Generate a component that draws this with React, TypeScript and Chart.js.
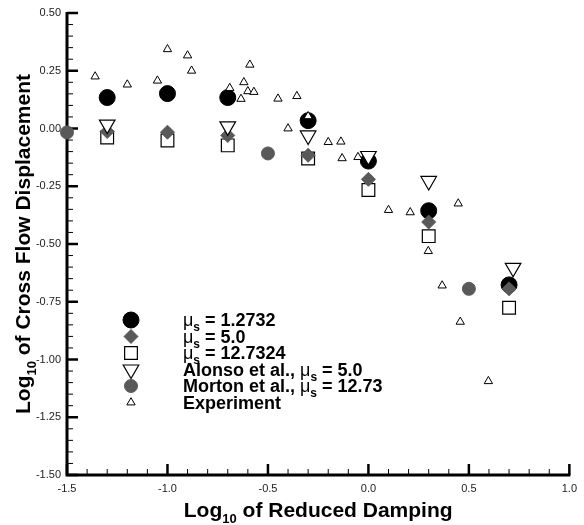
import React, { useEffect, useRef } from 'react';
import { Chart, registerables } from 'chart.js';

Chart.register(...registerables);

// ---------- data ----------
const X_SIM = [-1.3, -1.0, -0.7, -0.3, 0.0, 0.3, 0.7];
const Y_MU_1_2732 = [0.134, 0.151, 0.134, 0.034, -0.141, -0.356, -0.677];
const Y_MU_5_0 = [-0.013, -0.016, -0.03, -0.116, -0.22, -0.405, -0.694];
const Y_MU_12_7324 = [-0.039, -0.052, -0.073, -0.13, -0.266, -0.466, -0.776];

const X_ALONSO = [-1.3, -0.7, -0.3, 0.0, 0.3, 0.72];
const Y_ALONSO = [0.017, 0.009, -0.03, -0.119, -0.227, -0.603];

const X_MORTON = [-1.5, -0.5, 0.5];
const Y_MORTON = [-0.017, -0.108, -0.694];

const X_EXP = [-1.36, -1.2, -1.05, -1.0, -0.9, -0.88, -0.69, -0.634, -0.62, -0.6, -0.59, -0.57, -0.45, -0.4, -0.356, -0.3, -0.2, -0.137, -0.131, -0.052, 0.1, 0.208, 0.447, 0.298, 0.367, 0.457, 0.597];
const Y_EXP = [0.225, 0.19, 0.207, 0.343, 0.316, 0.25, 0.175, 0.128, 0.2, 0.161, 0.276, 0.158, 0.129, 0.0, 0.14, 0.053, -0.059, -0.057, -0.129, -0.124, -0.353, -0.363, -0.325, -0.531, -0.68, -0.837, -1.094];

const X_MIN = -1.5, X_MAX = 1.0, X_STEP = 0.5, X_MINOR = 0.1;
const Y_MIN = -1.5, Y_MAX = 0.5, Y_STEP = 0.25, Y_MINOR = 0.05;

const X_TITLE = [{ t: 'Log' }, { t: '10', sub: true }, { t: ' of Reduced Damping' }];
const Y_TITLE = [{ t: 'Log' }, { t: '10', sub: true }, { t: ' of Cross Flow Displacement' }];

const LEGEND_LABELS = [
  [{ t: 'μ', thin: true }, { t: 's', sub: true }, { t: ' = 1.2732' }],
  [{ t: 'μ', thin: true }, { t: 's', sub: true }, { t: ' = 5.0' }],
  [{ t: 'μ', thin: true }, { t: 's', sub: true }, { t: ' = 12.7324' }],
  [{ t: 'Alonso et al., ' }, { t: 'μ', thin: true }, { t: 's', sub: true }, { t: ' = 5.0' }],
  [{ t: 'Morton et al., ' }, { t: 'μ', thin: true }, { t: 's', sub: true }, { t: ' = 12.73' }],
  [{ t: 'Experiment' }],
];

const GRAY = '#595959';
const FAMILY = "'Liberation Sans', Arial, Helvetica, sans-serif";

type Seg = { t: string; sub?: boolean; thin?: boolean };

function zip(xs: number[], ys: number[]) {
  return xs.map((x, i) => ({ x, y: ys[i] }));
}

function segFont(s: Seg, size: number) {
  const sz = s.sub ? Math.round(size * 0.64) : size;
  const w = s.thin ? 'normal' : 'bold';
  return `${w} ${sz}px ${FAMILY}`;
}

function measureRich(ctx: CanvasRenderingContext2D, segs: Seg[], size: number) {
  let w = 0;
  for (const s of segs) {
    ctx.font = segFont(s, size);
    w += ctx.measureText(s.t).width;
  }
  return w;
}

function drawRich(ctx: CanvasRenderingContext2D, segs: Seg[], x: number, y: number, size: number) {
  let cx = x;
  ctx.textBaseline = 'alphabetic';
  ctx.textAlign = 'left';
  for (const s of segs) {
    ctx.font = segFont(s, size);
    ctx.fillText(s.t, cx, s.sub ? y + size * 0.28 : y);
    cx += ctx.measureText(s.t).width;
  }
}

function drawMarker(ctx: CanvasRenderingContext2D, kind: string, x: number, y: number, r: number, fill: string, stroke: string, lw: number) {
  ctx.beginPath();
  if (kind === 'circle') {
    ctx.arc(x, y, r, 0, Math.PI * 2);
  } else if (kind === 'diamond') {
    ctx.moveTo(x - r, y); ctx.lineTo(x, y - r); ctx.lineTo(x + r, y); ctx.lineTo(x, y + r);
  } else if (kind === 'square') {
    const h = Math.SQRT1_2 * r;
    ctx.rect(x - h, y - h, 2 * h, 2 * h);
  } else if (kind === 'tri' || kind === 'invtri') {
    let rad = kind === 'invtri' ? Math.PI : 0;
    for (let i = 0; i < 3; i++) {
      const px = x + Math.sin(rad) * r, py = y - Math.cos(rad) * r;
      if (i === 0) ctx.moveTo(px, py); else ctx.lineTo(px, py);
      rad += (2 * Math.PI) / 3;
    }
  }
  ctx.closePath();
  ctx.fillStyle = fill;
  ctx.fill();
  ctx.lineWidth = lw;
  ctx.strokeStyle = stroke;
  ctx.stroke();
}

const LEGEND_MARKERS = [
  { kind: 'circle', r: 8, fill: '#000', stroke: '#000', lw: 1 },
  { kind: 'diamond', r: 7, fill: GRAY, stroke: GRAY, lw: 1 },
  { kind: 'square', r: 9, fill: '#fff', stroke: '#000', lw: 1.2 },
  { kind: 'invtri', r: 9, fill: '#fff', stroke: '#000', lw: 1.2 },
  { kind: 'circle', r: 6.5, fill: GRAY, stroke: GRAY, lw: 1 },
  { kind: 'tri', r: 4.8, fill: '#fff', stroke: '#000', lw: 1 },
];

const customPlugin = {
  id: 'customAxes',
  beforeDatasetsDraw(chart: any) {
    const { ctx, scales } = chart;
    const xs = scales.x, ys = scales.y;
    const x0 = xs.getPixelForValue(X_MIN);
    const x1 = xs.getPixelForValue(X_MAX);
    const y0 = ys.getPixelForValue(Y_MIN);
    const y1 = ys.getPixelForValue(Y_MAX);
    ctx.save();
    ctx.strokeStyle = '#000';
    const nY = Math.round((Y_MAX - Y_MIN) / Y_MINOR);
    const perY = Math.round(Y_STEP / Y_MINOR);
    for (let i = 0; i <= nY; i++) {
      const py = ys.getPixelForValue(Y_MIN + i * Y_MINOR);
      const major = i % perY === 0;
      ctx.lineWidth = major ? 2.5 : 1;
      ctx.beginPath();
      ctx.moveTo(x0, py);
      ctx.lineTo(x0 + (major ? 11 : 6), py);
      ctx.stroke();
    }
    const nX = Math.round((X_MAX - X_MIN) / X_MINOR);
    const perX = Math.round(X_STEP / X_MINOR);
    for (let i = 0; i <= nX; i++) {
      const px = xs.getPixelForValue(X_MIN + i * X_MINOR);
      const major = i % perX === 0;
      ctx.lineWidth = major ? 2.5 : 1;
      ctx.beginPath();
      ctx.moveTo(px, y0);
      ctx.lineTo(px, y0 - (major ? 11 : 6));
      ctx.stroke();
    }
    ctx.lineWidth = 3;
    ctx.beginPath();
    ctx.moveTo(x0, y1 - 1);
    ctx.lineTo(x0, y0 + 1.5);
    ctx.moveTo(x0 - 1.5, y0);
    ctx.lineTo(x1 + 1, y0);
    ctx.stroke();
    ctx.restore();
  },
  afterDraw(chart: any) {
    const { ctx, chartArea } = chart;
    ctx.save();
    ctx.fillStyle = '#000';
    // x title
    const tSize = 21;
    const xw = measureRich(ctx, X_TITLE as Seg[], tSize);
    const cx = (chartArea.left + chartArea.right) / 2;
    drawRich(ctx, X_TITLE as Seg[], cx - xw / 2, 517, tSize);
    // y title
    const yw = measureRich(ctx, Y_TITLE as Seg[], tSize);
    const cy = (chartArea.top + chartArea.bottom) / 2;
    ctx.save();
    ctx.translate(30, cy);
    ctx.rotate(-Math.PI / 2);
    drawRich(ctx, Y_TITLE as Seg[], -yw / 2, 0, tSize);
    ctx.restore();
    // legend
    const lSize = 18;
    const rowY = [320, 336.5, 353, 369.5, 386, 402.5];
    LEGEND_LABELS.forEach((segs, i) => {
      const m = LEGEND_MARKERS[i];
      drawMarker(ctx, m.kind, 131, rowY[i], m.r, m.fill, m.stroke, m.lw);
      ctx.fillStyle = '#000';
      drawRich(ctx, segs as Seg[], 183, rowY[i] + 6, lSize);
    });
    ctx.restore();
  },
};

export default function App() {
  const ref = useRef<HTMLCanvasElement>(null);
  useEffect(() => {
    const canvas = ref.current!;
    const chart = new Chart(canvas, {
      type: 'scatter',
      data: {
        datasets: [
          {
            label: 'Experiment',
            data: zip(X_EXP, Y_EXP),
            pointStyle: 'triangle',
            pointRadius: 4.8,
            backgroundColor: '#fff',
            borderColor: '#000',
            borderWidth: 1,
            order: 0,
            clip: false,
          },
          {
            label: 'Alonso et al., mu_s = 5.0',
            data: zip(X_ALONSO, Y_ALONSO),
            pointStyle: 'triangle',
            rotation: 180,
            pointRadius: 9,
            backgroundColor: '#fff',
            borderColor: '#000',
            borderWidth: 1.2,
            order: 1,
            clip: false,
          },
          {
            label: 'Morton et al., mu_s = 12.73',
            data: zip(X_MORTON, Y_MORTON),
            pointStyle: 'circle',
            pointRadius: 6.5,
            backgroundColor: GRAY,
            borderColor: GRAY,
            borderWidth: 1,
            order: 2,
            clip: false,
          },
          {
            label: 'mu_s = 5.0',
            data: zip(X_SIM, Y_MU_5_0),
            pointStyle: 'rectRot',
            pointRadius: 7,
            backgroundColor: GRAY,
            borderColor: GRAY,
            borderWidth: 1,
            order: 3,
            clip: false,
          },
          {
            label: 'mu_s = 12.7324',
            data: zip(X_SIM, Y_MU_12_7324),
            pointStyle: 'rect',
            pointRadius: 9,
            backgroundColor: '#fff',
            borderColor: '#000',
            borderWidth: 1.2,
            order: 4,
            clip: false,
          },
          {
            label: 'mu_s = 1.2732',
            data: zip(X_SIM, Y_MU_1_2732),
            pointStyle: 'circle',
            pointRadius: 8,
            backgroundColor: '#000',
            borderColor: '#000',
            borderWidth: 1,
            order: 5,
            clip: false,
          },
        ],
      },
      options: {
        responsive: false,
        animation: false,
        devicePixelRatio: 1,
        layout: { padding: { left: 0, top: 13, right: 8, bottom: 0 } },
        plugins: { legend: { display: false }, tooltip: { enabled: false } },
        scales: {
          x: {
            type: 'linear',
            min: X_MIN,
            max: X_MAX,
            grid: { display: false, drawTicks: false },
            border: { display: false },
            ticks: {
              stepSize: X_STEP,
              padding: 7,
              color: '#222',
              font: { family: FAMILY, size: 11 },
              callback: (v: any) => Number(v).toFixed(1),
            },
            afterFit: (s: any) => { s.height = 50; },
          },
          y: {
            type: 'linear',
            min: Y_MIN,
            max: Y_MAX,
            grid: { display: false, drawTicks: false },
            border: { display: false },
            ticks: {
              stepSize: Y_STEP,
              padding: 6,
              color: '#222',
              font: { family: FAMILY, size: 11 },
              callback: (v: any) => Number(v).toFixed(2),
            },
            afterFit: (s: any) => { s.width = 67; },
          },
        },
      },
      plugins: [customPlugin],
    } as any);
    return () => chart.destroy();
  }, []);
  return (
    <div style={{ position: 'absolute', left: 0, top: 0, width: 584, height: 525 }}>
      <canvas ref={ref} width={584} height={525} style={{ width: 584, height: 525, display: 'block' }} />
    </div>
  );
}
